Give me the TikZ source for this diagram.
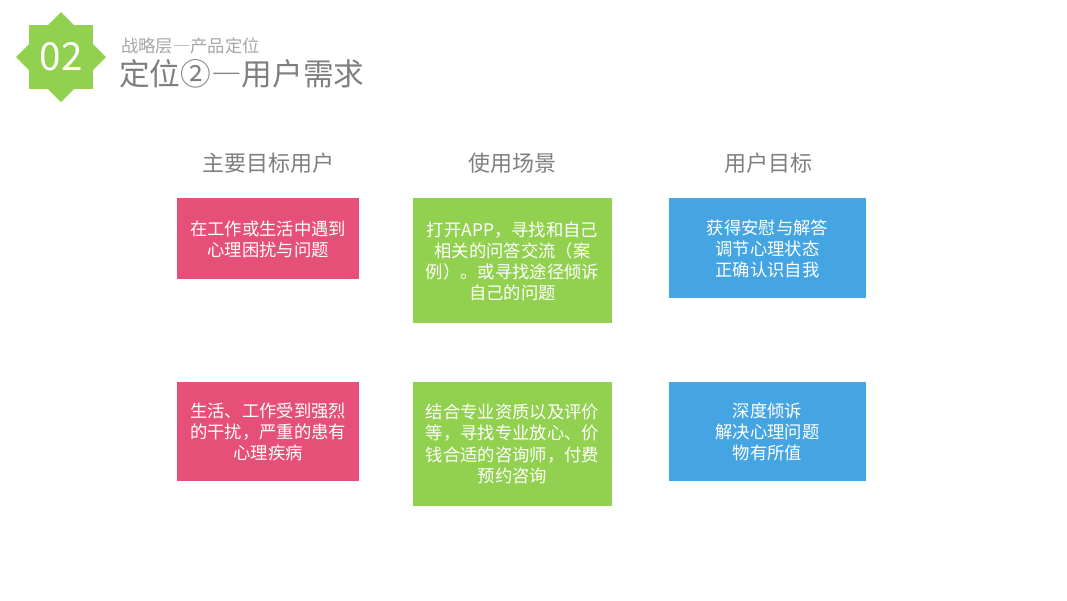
\documentclass[tikz,border=0pt]{standalone}
\usepackage{fontspec}
\setmainfont{Noto Sans CJK SC}
\newcommand{\fwdash}{{\addfontfeatures{CharacterWidth=Full}—}}
\definecolor{cpink}{HTML}{E65078}
\definecolor{cgreen}{HTML}{92D050}
\definecolor{cblue}{HTML}{45A5E3}
\definecolor{cgray}{HTML}{7F7F7F}
\definecolor{clgray}{HTML}{A6A6A6}
\begin{document}
\begin{tikzpicture}[x=0.75pt,y=-0.75pt,
  card/.style={anchor=north west,inner sep=0pt,outer sep=0pt},
  cardtext/.style={text=white,align=center,font=\fontsize{13}{15.8}\selectfont},
  head/.style={text=cgray,font=\fontsize{16.5}{20}\selectfont}]
\useasboundingbox (0,0) rectangle (1067,600);
% badge
\fill[cgreen] (61,12) -- (106,57) -- (61,102) -- (16,57) -- cycle;
\fill[cgreen] (29,25) rectangle (93,89);
\node[text=white,font=\fontsize{29}{30}\selectfont] (num) at (61,57) {02};
\node[anchor=west,inner sep=0pt,text=clgray,font=\fontsize{13}{15}\selectfont] (sub) at (121,46) {战略层\fwdash 产品定位};
\node[anchor=west,inner sep=0pt,text=cgray,font=\fontsize{23}{26}\selectfont] (title) at (119,74) {定位②\fwdash 用户需求};
% headers
\node[head] (h1) at (268,163) {主要目标用户};
\node[head] (h2) at (512,163) {使用场景};
\node[head] (h3) at (768,163) {用户目标};
% boxes
\fill[cpink] (177,198) rectangle (359,279);
\fill[cgreen] (413,198) rectangle (612,323);
\fill[cblue] (669,198) rectangle (866,298);
\fill[cpink] (177,382) rectangle (359,481);
\fill[cgreen] (413,382) rectangle (612,506);
\fill[cblue] (669,382) rectangle (866,481);
\node[cardtext] (t1) at (268,239.5) {在工作或生活中遇到\\心理困扰与问题};
\node[cardtext] (t2) at (512.5,261) {打开APP，寻找和自己\\相关的问答交流（案\\例）。或寻找途径倾诉\\自己的问题};
\node[cardtext] (t3) at (767.5,248.5) {获得安慰与解答\\调节心理状态\\正确认识自我};
\node[cardtext] (t4) at (268,432) {生活、工作受到强烈\\的干扰，严重的患有\\心理疾病};
\node[cardtext] (t5) at (512.5,444) {结合专业资质以及评价\\等，寻找专业放心、价\\钱合适的咨询师，付费\\预约咨询};
\node[cardtext] (t6) at (767.5,432) {深度倾诉\\解决心理问题\\物有所值};
\end{tikzpicture}
\end{document}
